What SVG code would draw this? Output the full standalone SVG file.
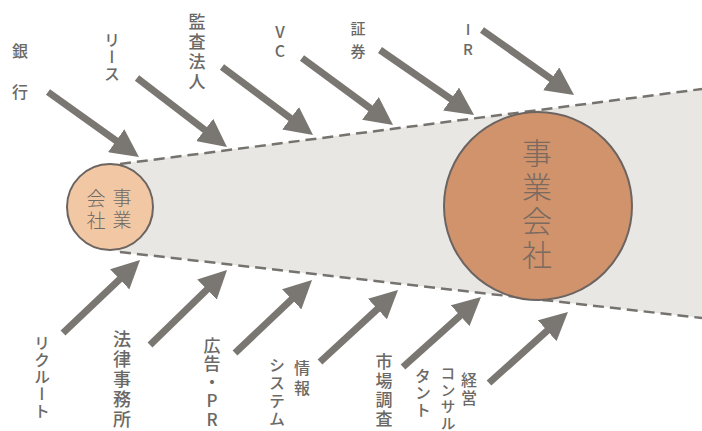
<svg xmlns="http://www.w3.org/2000/svg" width="702" height="431" viewBox="0 0 702 431">
<defs>
<marker id="ah" markerUnits="userSpaceOnUse" markerWidth="28" markerHeight="28" refX="8" refY="14" orient="auto">
<path d="M0,0 L28,14 L0,28 z" fill="#7a7772"/>
</marker>
<style>
.arr{stroke:#7a7772;stroke-width:7;fill:none;marker-end:url(#ah)}
.dash{stroke:#76736f;stroke-width:2.5;stroke-dasharray:11 6;fill:none}
.lbl{font-family:"Noto Sans CJK JP","Liberation Sans",sans-serif;fill:#6b6966;writing-mode:vertical-rl;text-orientation:upright;font-weight:500}
.ch{font-family:"Noto Sans CJK JP","Liberation Sans",sans-serif;fill:#6b6966;text-anchor:middle;dominant-baseline:central;font-weight:500}
.ct{font-family:"Noto Sans CJK JP",serif;writing-mode:vertical-rl;text-orientation:upright;font-weight:300}
</style>
</defs>
<rect width="702" height="431" fill="#ffffff"/>
<g id="funnel">
<polygon points="118,164 702,89 702,318 118,252" fill="#e9e7e4"/>
<path class="dash" d="M120,164 L702,89"/>
<path class="dash" d="M120,252 L702,318"/>
</g>
<g id="node-small">
<circle cx="110" cy="207" r="43" fill="#f2c8a4" stroke="#6b6461" stroke-width="2"/>
<text class="ct" x="122" y="188" font-size="19" letter-spacing="3" fill="#6e6a66">事業</text>
<text class="ct" x="96" y="189" font-size="19" letter-spacing="3" fill="#6e6a66">会社</text>
</g>
<g id="node-big">
<circle cx="538" cy="206" r="94" fill="#d0936c" stroke="#6b6461" stroke-width="2"/>
<text class="ct" x="537" y="138" font-size="30" letter-spacing="4" fill="#7a6a60">事業会社</text>
</g>
<g id="connectors">
<line class="arr" x1="48" y1="92" x2="122.7" y2="145.4"/>
<line class="arr" x1="137" y1="78" x2="211.1" y2="134.8"/>
<line class="arr" x1="222" y1="67" x2="297" y2="123"/>
<line class="arr" x1="302" y1="58" x2="376.9" y2="113.1"/>
<line class="arr" x1="380" y1="50" x2="457.6" y2="103.6"/>
<line class="arr" x1="482" y1="30" x2="557.7" y2="83.5"/>
<line class="arr" x1="63" y1="333" x2="125.5" y2="273.8"/>
<line class="arr" x1="150" y1="345" x2="212.7" y2="284"/>
<line class="arr" x1="235" y1="353" x2="297.5" y2="293.8"/>
<line class="arr" x1="320" y1="362" x2="383.3" y2="303.6"/>
<line class="arr" x1="403" y1="367" x2="466.1" y2="310.4"/>
<line class="arr" x1="489" y1="383" x2="553.1" y2="325.4"/>
</g>
<g id="label-bank">
<text class="ch" x="20" y="50" font-size="16">銀</text>
<text class="ch" x="20" y="91" font-size="16">行</text>
</g>
<g id="label-lease"><text class="lbl" x="112" y="32" font-size="16" letter-spacing="1">リース</text></g>
<g id="label-audit"><text class="lbl" x="197" y="13" font-size="17" letter-spacing="3">監査法人</text></g>
<g id="label-vc"><text class="lbl" x="280" y="24" font-size="16" letter-spacing="3">VC</text></g>
<g id="label-sec"><text class="lbl" x="358" y="21" font-size="15" letter-spacing="8">証券</text></g>
<g id="label-ir"><text class="lbl" x="468" y="22" font-size="15" letter-spacing="5">IR</text></g>
<g id="label-recruit"><text class="lbl" x="42" y="335" font-size="16" letter-spacing="1">リクルート</text></g>
<g id="label-law"><text class="lbl" x="122" y="330" font-size="18" letter-spacing="2">法律事務所</text></g>
<g id="label-pr"><text class="lbl" x="212" y="337" font-size="17" letter-spacing="1.5">広告・PR</text></g>
<g id="label-info">
<text class="lbl" x="302" y="360" font-size="16" letter-spacing="4">情報</text>
<text class="lbl" x="277" y="357" font-size="16" letter-spacing="2">システム</text>
</g>
<g id="label-market"><text class="lbl" x="384" y="353" font-size="17" letter-spacing="2">市場調査</text></g>
<g id="label-consult">
<text class="lbl" x="469" y="372" font-size="16" letter-spacing="2">経営</text>
<text class="lbl" x="448" y="366" font-size="15" letter-spacing="1.5">コンサル</text>
<text class="lbl" x="423" y="368" font-size="16" letter-spacing="1">タント</text>
</g>
</svg>
